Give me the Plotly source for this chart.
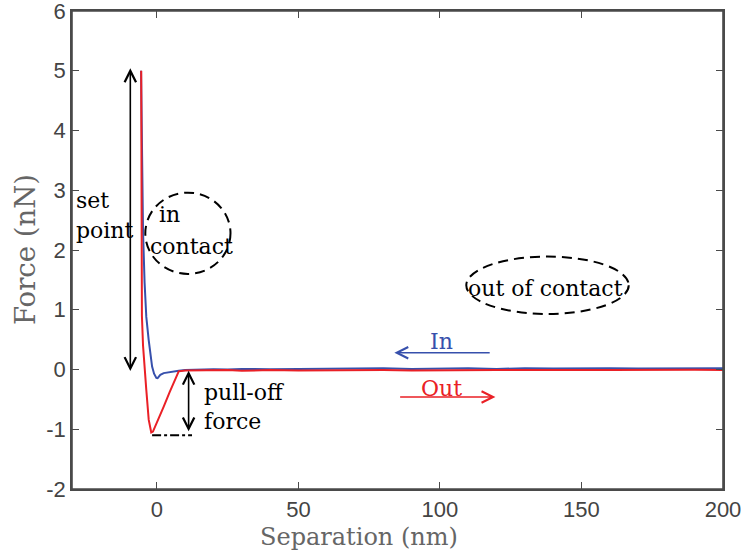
import plotly.graph_objects as go

# ---- data ----
sep_in = [-5.6, -5.3, -4.9, -4.35, -3.75, -2.9, -2.3, -1.7, -1.0, -0.2, 0.25, 0.7, 1.2, 2.4, 3.5, 4.7, 6.0, 7.7,
          10, 15, 20, 25, 30, 40, 50, 60, 70, 80, 90, 100, 110, 120, 130, 140, 150, 160, 170, 180, 190, 200]
force_in = [5.0, 3.7, 2.3, 1.45, 0.88, 0.49, 0.27, 0.05, -0.07, -0.14, -0.145, -0.125, -0.09, -0.06, -0.05, -0.045,
            -0.035, -0.02, -0.01, 0.0, 0.005, 0.0, 0.01, 0.005, 0.01, 0.015, 0.01, 0.02, 0.01, 0.015, 0.02, 0.01,
            0.02, 0.015, 0.02, 0.02, 0.015, 0.02, 0.025, 0.02]

sep_out = [-5.55, -5.45, -5.3, -4.9, -4.4, -3.75, -2.9, -2.4, -2.0, -1.4, 0.5, 2.4, 4.5, 6.3, 7.7,
           10, 15, 20, 25, 30, 40, 50, 60, 70, 80, 90, 100, 110, 120, 130, 140, 150, 160, 170, 180, 190, 200]
force_out = [5.0, 3.0, 0.9, 0.4, 0.0, -0.34, -0.84, -1.0, -1.055, -1.04, -0.84, -0.62, -0.38, -0.17, -0.03,
             -0.015, -0.01, -0.015, -0.01, -0.02, -0.01, -0.015, -0.01, -0.005, -0.01, -0.015, -0.01, -0.005,
             -0.01, -0.01, -0.005, -0.01, -0.01, -0.005, -0.01, -0.005, -0.01]

x_ticks = [0, 50, 100, 150, 200]
x_ticklabels = ["0", "50", "100", "150", "200"]
y_ticks = [-2, -1, 0, 1, 2, 3, 4, 5, 6]
y_ticklabels = ["-2", "-1", "0", "1", "2", "3", "4", "5", "6"]

BLUE = "rgb(55,80,172)"
RED = "rgb(234,32,38)"
AX = "#4a4a4a"
SERIF = "DejaVu Serif"

fig = go.Figure()
fig.add_trace(go.Scatter(x=sep_in, y=force_in, mode="lines", line=dict(color=BLUE, width=2), name="In"))
fig.add_trace(go.Scatter(x=sep_out, y=force_out, mode="lines", line=dict(color=RED, width=2), name="Out"))

axis_common = dict(showgrid=False, zeroline=False, showline=True, linecolor=AX, linewidth=1.6,
                   ticks="inside", ticklen=7, tickwidth=1.4, tickcolor=AX, automargin=False,
                   ticklabeloverflow="allow", mirror="ticks",
                   tickfont=dict(family="Liberation Sans", size=22, color="#444"))
fig.update_xaxes(range=[-30, 200], tickvals=x_ticks, ticktext=x_ticklabels, **axis_common)
fig.update_yaxes(range=[-2, 6], tickvals=y_ticks, ticktext=y_ticklabels, **axis_common)

ann = []
def text(x, y, s, size=22, color="black", xanchor="left"):
    ann.append(dict(x=x, y=y, xref="x", yref="y", text=s, showarrow=False, xanchor=xanchor, yanchor="middle",
                    font=dict(family=SERIF, size=size, color=color)))

def arrow(x0, y0, x1, y1, color="black", double=False):
    d = dict(x=x1, y=y1, ax=x0, ay=y0, xref="x", yref="y", axref="x", ayref="y", text="",
             showarrow=True, arrowhead=5, arrowsize=1.4, arrowwidth=1.6, arrowcolor=color,
             standoff=0, startstandoff=0)
    if double:
        d.update(arrowside="end+start", startarrowhead=5, startarrowsize=1.4)
    ann.append(d)

# set point
arrow(-9.4, -0.05, -9.4, 5.04, double=True)
text(-29.3, 2.83, "set")
text(-29.3, 2.33, "point")
# in contact
text(0.0, 2.59, "in")
text(-3.3, 2.06, "contact")
# out of contact
text(137.2, 1.35, "out of contact", xanchor="center")
# In / Out arrows
arrow(118.1, 0.28, 83.9, 0.28, color=BLUE)
text(100.7, 0.47, "In", color=BLUE, xanchor="center")
arrow(85.4, -0.46, 119.6, -0.46, color=RED)
text(100.7, -0.31, "Out", color=RED, xanchor="center")
# pull-off force
arrow(11.2, -1.06, 11.2, -0.02, double=True)
text(15.9, -0.39, "pull-off")
text(15.9, -0.87, "force")

# axis titles
ann.append(dict(x=0.4406, y=0, xref="paper", yref="paper", yshift=-48, text="Separation (nm)", showarrow=False,
                xanchor="center", yanchor="middle", font=dict(family=SERIF, size=24, color="#666")))
ann.append(dict(x=0, y=0.5, xref="paper", yref="paper", xshift=-47, text="Force (nN)", showarrow=False,
                textangle=-90, xanchor="center", yanchor="middle", font=dict(family=SERIF, size=27.5, color="#666")))

shapes = [
    # plot frame (box round the axes)
    dict(type="rect", xref="paper", yref="paper", x0=0, x1=1, y0=0, y1=1, layer="above",
         line=dict(color=AX, width=1.6)),
    dict(type="circle", xref="x", yref="y", x0=-4.1, x1=26.0, y0=1.6, y1=2.96,
         line=dict(color="black", width=2, dash="10px,6px")),
    dict(type="circle", xref="x", yref="y", x0=109.3, x1=166.7, y0=0.93, y1=1.89,
         line=dict(color="black", width=2, dash="10px,6px")),
    dict(type="line", xref="x", yref="y", x0=-1.7, x1=12.4, y0=-1.1, y1=-1.1,
         line=dict(color="black", width=2, dash="dashdot")),
]

fig.update_layout(width=744, height=553, margin=dict(l=72, r=21, t=11, b=64),
                  plot_bgcolor="white", paper_bgcolor="white", showlegend=False,
                  annotations=ann, shapes=shapes)
fig.write_html("out.html", config={"displayModeBar": False},
               post_script="document.body.style.margin='0px';document.body.style.overflow='hidden';")
